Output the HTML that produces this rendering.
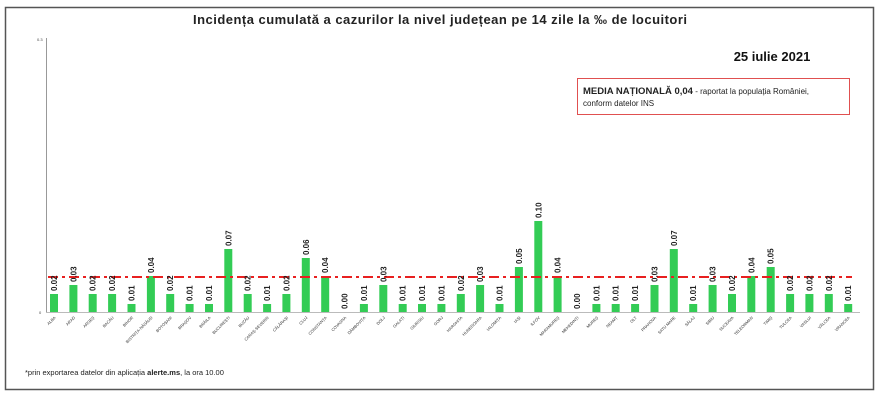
<!DOCTYPE html>
<html><head><meta charset="utf-8"><style>
body{margin:0;background:#fff}
svg{display:block;font-family:"Liberation Sans",sans-serif}
.v{font-size:8px;font-weight:bold;fill:#222}
.l{font-size:4px;fill:#333}
</style></head><body>
<svg width="880" height="400" viewBox="0 0 880 400">
<rect x="0" y="0" width="880" height="400" fill="#fff"/>
<rect x="5.5" y="7.5" width="868" height="382" fill="none" stroke="#555" stroke-width="1.5"/>
<text x="440" y="24" text-anchor="middle" font-size="13" font-weight="bold" fill="#222" textLength="494">Incidența cumulată a cazurilor la nivel județean pe 14 zile   la ‰ de locuitori</text>
<text x="772" y="61" text-anchor="middle" font-size="13" font-weight="bold" fill="#111">25 iulie 2021</text>
<rect x="577.5" y="78.5" width="272" height="36" fill="#fff" stroke="#e05050" stroke-width="1"/>
<text x="583" y="94" font-size="9.5" fill="#222"><tspan font-weight="bold">MEDIA NAȚIONALĂ 0,04</tspan><tspan font-size="8"> - raportat la populația României,</tspan></text>
<text x="583" y="106" font-size="8" fill="#222">conform datelor INS</text>
<text x="37" y="41" font-size="4" fill="#444">0.3</text>
<text x="39" y="314" font-size="4" fill="#444">0</text>
<line x1="46.5" y1="38" x2="46.5" y2="313" stroke="#999" stroke-width="1"/>
<line x1="46" y1="312.5" x2="860" y2="312.5" stroke="#bbb" stroke-width="1"/>
<g fill="#33cc55">
<rect x="50" y="294" width="8" height="18"/><rect x="69.4" y="285" width="8" height="27"/><rect x="88.7" y="294" width="8" height="18"/><rect x="108.1" y="294" width="8" height="18"/><rect x="127.5" y="304" width="8" height="8"/><rect x="146.9" y="276" width="8" height="36"/><rect x="166.2" y="294" width="8" height="18"/><rect x="185.6" y="304" width="8" height="8"/><rect x="205" y="304" width="8" height="8"/><rect x="224.3" y="249" width="8" height="63"/><rect x="243.7" y="294" width="8" height="18"/><rect x="263.1" y="304" width="8" height="8"/><rect x="282.4" y="294" width="8" height="18"/><rect x="301.8" y="258" width="8" height="54"/><rect x="321.2" y="276" width="8" height="36"/><rect x="359.9" y="304" width="8" height="8"/><rect x="379.3" y="285" width="8" height="27"/><rect x="398.7" y="304" width="8" height="8"/><rect x="418" y="304" width="8" height="8"/><rect x="437.4" y="304" width="8" height="8"/><rect x="456.8" y="294" width="8" height="18"/><rect x="476.1" y="285" width="8" height="27"/><rect x="495.5" y="304" width="8" height="8"/><rect x="514.9" y="267" width="8" height="45"/><rect x="534.3" y="221" width="8" height="91"/><rect x="553.6" y="276" width="8" height="36"/><rect x="592.4" y="304" width="8" height="8"/><rect x="611.7" y="304" width="8" height="8"/><rect x="631.1" y="304" width="8" height="8"/><rect x="650.5" y="285" width="8" height="27"/><rect x="669.8" y="249" width="8" height="63"/><rect x="689.2" y="304" width="8" height="8"/><rect x="708.6" y="285" width="8" height="27"/><rect x="728" y="294" width="8" height="18"/><rect x="747.3" y="276" width="8" height="36"/><rect x="766.7" y="267" width="8" height="45"/><rect x="786.1" y="294" width="8" height="18"/><rect x="805.4" y="294" width="8" height="18"/><rect x="824.8" y="294" width="8" height="18"/><rect x="844.2" y="304" width="8" height="8"/>
</g>
<line x1="48" y1="277" x2="852" y2="277" stroke="#e82020" stroke-width="2" stroke-dasharray="10,4,3,4"/>
<g class="v">
<text transform="translate(57,291) rotate(-90)">0.02</text>
<text transform="translate(76.4,282) rotate(-90)">0.03</text>
<text transform="translate(95.7,291) rotate(-90)">0.02</text>
<text transform="translate(115.1,291) rotate(-90)">0.02</text>
<text transform="translate(134.5,301) rotate(-90)">0.01</text>
<text transform="translate(153.9,273) rotate(-90)">0.04</text>
<text transform="translate(173.2,291) rotate(-90)">0.02</text>
<text transform="translate(192.6,301) rotate(-90)">0.01</text>
<text transform="translate(212,301) rotate(-90)">0.01</text>
<text transform="translate(231.3,246) rotate(-90)">0.07</text>
<text transform="translate(250.7,291) rotate(-90)">0.02</text>
<text transform="translate(270.1,301) rotate(-90)">0.01</text>
<text transform="translate(289.4,291) rotate(-90)">0.02</text>
<text transform="translate(308.8,255) rotate(-90)">0.06</text>
<text transform="translate(328.2,273) rotate(-90)">0.04</text>
<text transform="translate(347.6,309) rotate(-90)">0.00</text>
<text transform="translate(366.9,301) rotate(-90)">0.01</text>
<text transform="translate(386.3,282) rotate(-90)">0.03</text>
<text transform="translate(405.7,301) rotate(-90)">0.01</text>
<text transform="translate(425,301) rotate(-90)">0.01</text>
<text transform="translate(444.4,301) rotate(-90)">0.01</text>
<text transform="translate(463.8,291) rotate(-90)">0.02</text>
<text transform="translate(483.1,282) rotate(-90)">0.03</text>
<text transform="translate(502.5,301) rotate(-90)">0.01</text>
<text transform="translate(521.9,264) rotate(-90)">0.05</text>
<text transform="translate(541.3,218) rotate(-90)">0.10</text>
<text transform="translate(560.6,273) rotate(-90)">0.04</text>
<text transform="translate(580,309) rotate(-90)">0.00</text>
<text transform="translate(599.4,301) rotate(-90)">0.01</text>
<text transform="translate(618.7,301) rotate(-90)">0.01</text>
<text transform="translate(638.1,301) rotate(-90)">0.01</text>
<text transform="translate(657.5,282) rotate(-90)">0.03</text>
<text transform="translate(676.8,246) rotate(-90)">0.07</text>
<text transform="translate(696.2,301) rotate(-90)">0.01</text>
<text transform="translate(715.6,282) rotate(-90)">0.03</text>
<text transform="translate(735,291) rotate(-90)">0.02</text>
<text transform="translate(754.3,273) rotate(-90)">0.04</text>
<text transform="translate(773.7,264) rotate(-90)">0.05</text>
<text transform="translate(793.1,291) rotate(-90)">0.02</text>
<text transform="translate(812.4,291) rotate(-90)">0.02</text>
<text transform="translate(831.8,291) rotate(-90)">0.02</text>
<text transform="translate(851.2,301) rotate(-90)">0.01</text>
</g>
<g class="l" text-anchor="end">
<text transform="translate(56,318) rotate(-45)">ALBA</text>
<text transform="translate(75.4,318) rotate(-45)">ARAD</text>
<text transform="translate(94.7,318) rotate(-45)">ARGEȘ</text>
<text transform="translate(114.1,318) rotate(-45)">BACĂU</text>
<text transform="translate(133.5,318) rotate(-45)">BIHOR</text>
<text transform="translate(152.9,318) rotate(-45)">BISTRIȚA-NĂSĂUD</text>
<text transform="translate(172.2,318) rotate(-45)">BOTOȘANI</text>
<text transform="translate(191.6,318) rotate(-45)">BRAȘOV</text>
<text transform="translate(211,318) rotate(-45)">BRĂILA</text>
<text transform="translate(230.3,318) rotate(-45)">BUCUREȘTI</text>
<text transform="translate(249.7,318) rotate(-45)">BUZĂU</text>
<text transform="translate(269.1,318) rotate(-45)">CARAȘ-SEVERIN</text>
<text transform="translate(288.4,318) rotate(-45)">CĂLĂRAȘI</text>
<text transform="translate(307.8,318) rotate(-45)">CLUJ</text>
<text transform="translate(327.2,318) rotate(-45)">CONSTANȚA</text>
<text transform="translate(346.6,318) rotate(-45)">COVASNA</text>
<text transform="translate(365.9,318) rotate(-45)">DÂMBOVIȚA</text>
<text transform="translate(385.3,318) rotate(-45)">DOLJ</text>
<text transform="translate(404.7,318) rotate(-45)">GALAȚI</text>
<text transform="translate(424,318) rotate(-45)">GIURGIU</text>
<text transform="translate(443.4,318) rotate(-45)">GORJ</text>
<text transform="translate(462.8,318) rotate(-45)">HARGHITA</text>
<text transform="translate(482.1,318) rotate(-45)">HUNEDOARA</text>
<text transform="translate(501.5,318) rotate(-45)">IALOMIȚA</text>
<text transform="translate(520.9,318) rotate(-45)">IAȘI</text>
<text transform="translate(540.3,318) rotate(-45)">ILFOV</text>
<text transform="translate(559.6,318) rotate(-45)">MARAMUREȘ</text>
<text transform="translate(579,318) rotate(-45)">MEHEDINȚI</text>
<text transform="translate(598.4,318) rotate(-45)">MUREȘ</text>
<text transform="translate(617.7,318) rotate(-45)">NEAMȚ</text>
<text transform="translate(637.1,318) rotate(-45)">OLT</text>
<text transform="translate(656.5,318) rotate(-45)">PRAHOVA</text>
<text transform="translate(675.8,318) rotate(-45)">SATU MARE</text>
<text transform="translate(695.2,318) rotate(-45)">SĂLAJ</text>
<text transform="translate(714.6,318) rotate(-45)">SIBIU</text>
<text transform="translate(734,318) rotate(-45)">SUCEAVA</text>
<text transform="translate(753.3,318) rotate(-45)">TELEORMAN</text>
<text transform="translate(772.7,318) rotate(-45)">TIMIȘ</text>
<text transform="translate(792.1,318) rotate(-45)">TULCEA</text>
<text transform="translate(811.4,318) rotate(-45)">VASLUI</text>
<text transform="translate(830.8,318) rotate(-45)">VÂLCEA</text>
<text transform="translate(850.2,318) rotate(-45)">VRANCEA</text>
</g>
<text x="25" y="375" font-size="7.5" fill="#222">*prin exportarea datelor din aplicația <tspan font-weight="bold">alerte.ms</tspan>, la ora 10.00</text>
</svg>
</body></html>
